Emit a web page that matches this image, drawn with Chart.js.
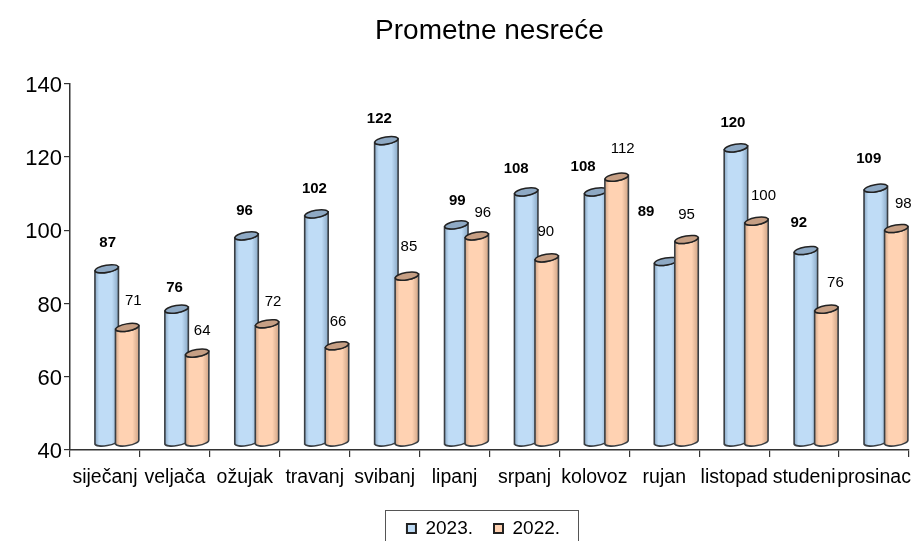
<!DOCTYPE html>
<html><head><meta charset="utf-8">
<style>html,body{margin:0;padding:0;background:#fff}#w{width:914px;height:541px;overflow:hidden}</style>
<script src="https://cdn.jsdelivr.net/npm/chart.js@4"></script></head>
<body><div id="w"><canvas id="c" width="914" height="541"></canvas></div>
<script>
const months = ['siječanj','veljača','ožujak','travanj','svibanj','lipanj','srpanj','kolovoz','rujan','listopad','studeni','prosinac'];
const values2023 = [87,76,96,102,122,99,108,108,89,120,92,109];
const values2022 = [71,64,72,66,85,96,90,112,95,100,76,98];
const yTicks = [40,60,80,100,120,140];
// label placement relative to each bar (px)
const lift2023 = [35,30,34,34,31,33,32,34,59,34,37,38];
const lift2022 = [36,31,31,33,38,32,35,37,34,34,35,34];
const labelDx2023 = [13,10,10,10,5,13,2,-1,-8,9,5,5];
const labelDx2022 = [18,17,18,13,14,18,11,18,12,19,21,19];

const SHIFT = 12, DEPTH = 9, RX_EXTRA = 1.5, RY = 3.6, TILT = -0.17;
const palette = {
  blue:  {base:'#BFDCF6', edge:'#8AA9C6', top:'#8EA9C4'},
  orange:{base:'#FFD2B2', edge:'#CFA486', top:'#C69F84'}
};
function drawBars(chart,index){
  const ctx = chart.ctx, p = index===0 ? palette.blue : palette.orange;
  const basePx = chart.scales.y.getPixelForValue(40);
  chart.getDatasetMeta(index).data.forEach(bar=>{
    const rx = bar.width/2 + RX_EXTRA, cx = bar.x + SHIFT;
    const yt = bar.y - DEPTH, yb = basePx - DEPTH + 1;
    const g = ctx.createLinearGradient(cx-rx,0,cx+rx,0);
    g.addColorStop(0,p.edge); g.addColorStop(.18,p.base); g.addColorStop(.72,p.base); g.addColorStop(1,p.edge);
    ctx.save();
    ctx.beginPath();
    const dy = Math.sin(TILT)*rx;
    ctx.moveTo(cx-rx,yt-dy);
    ctx.lineTo(cx-rx,yb-dy);
    ctx.ellipse(cx,yb,rx,RY,TILT,Math.PI,0,true);
    ctx.lineTo(cx+rx,yt+dy);
    ctx.ellipse(cx,yt,rx,RY,TILT,0,Math.PI,false);
    ctx.closePath();
    ctx.fillStyle = g; ctx.fill();
    ctx.strokeStyle = '#3a3f44'; ctx.lineWidth = 1.6; ctx.stroke();
    ctx.beginPath();
    ctx.ellipse(cx,yt,rx,RY,TILT,0,Math.PI*2);
    ctx.fillStyle = p.top; ctx.fill();
    ctx.strokeStyle = '#222'; ctx.lineWidth = 1.5; ctx.stroke();
    ctx.restore();
  });
}
const cylinders = {
  id:'cylinders',
  beforeDatasetsDraw(chart){ drawBars(chart,0); drawBars(chart,1); },
  beforeDatasetDraw(){ return false; },
  afterDraw(chart){
    const ctx = chart.ctx;
    chart.data.datasets.forEach((ds,di)=>{
      const lift = di===0?lift2023:lift2022, dxs = di===0?labelDx2023:labelDx2022;
      chart.getDatasetMeta(di).data.forEach((bar,i)=>{
        ctx.save();
        ctx.font = (di===0?'bold 15px':'15px')+' "Liberation Sans",Arial,sans-serif';
        ctx.fillStyle = '#000'; ctx.textAlign='center'; ctx.textBaseline='middle';
        ctx.fillText(String(ds.data[i]), bar.x+dxs[i], bar.y-lift[i]);
        ctx.restore();
      });
    });
    ctx.save();
    ctx.strokeStyle='#555'; ctx.lineWidth=1;
    ctx.strokeRect(385.5, 510.5, 193, 40);
    ctx.restore();
  },
  afterLayout(chart){
    const lg = chart.legend;
    lg.left += 29; lg.right += 29; lg.top += 7; lg.bottom += 7;
  }
};
new Chart(document.getElementById('c'),{
  type:'bar',
  plugins:[cylinders],
  data:{labels:months,datasets:[
    {label:'2023.',data:values2023,backgroundColor:palette.blue.base,borderColor:'#222',borderWidth:2},
    {label:'2022.',data:values2022,backgroundColor:palette.orange.base,borderColor:'#222',borderWidth:2}
  ]},
  options:{
    responsive:false,animation:false,
    layout:{padding:{left:0,right:5,top:0,bottom:0}},
    datasets:{bar:{barPercentage:1,categoryPercentage:0.587}},
    plugins:{
      title:{display:true,text:'Prometne nesreće',color:'#000',fullSize:false,
        font:{family:'"Liberation Sans",Arial,sans-serif',size:28,weight:'normal'},
        padding:{top:14,bottom:36}},
      tooltip:{enabled:false},
      legend:{display:true,position:'bottom',
        labels:{boxWidth:9,boxHeight:9,padding:21,color:'#000',
          font:{family:'"Liberation Sans",Arial,sans-serif',size:19}}}
    },
    scales:{
      x:{
        afterFit(a){a.height=41;a.paddingLeft=0;a.paddingRight=0},
        border:{color:'#333',width:1.5},
        grid:{drawOnChartArea:false,drawTicks:true,tickLength:7,color:'#333',lineWidth:1.2},
        ticks:{autoSkip:false,maxRotation:0,minRotation:0,color:'#000',padding:9,
          font:{family:'"Liberation Sans",Arial,sans-serif',size:19.5}}
      },
      y:{
        min:40,max:140,
        afterFit(a){a.width=70},
        afterBuildTicks(a){a.ticks=yTicks.map(v=>({value:v}))},
        border:{color:'#333',width:1.5},
        grid:{drawOnChartArea:false,drawTicks:true,tickLength:6,color:'#333',lineWidth:1.2},
        ticks:{color:'#000',padding:2,labelOffset:2,font:{family:'"Liberation Sans",Arial,sans-serif',size:22}}
      }
    }
  }
});
</script></body></html>
